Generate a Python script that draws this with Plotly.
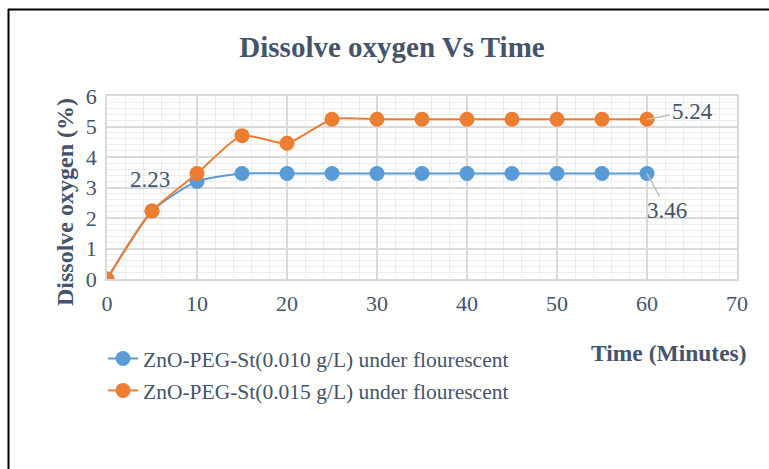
import plotly.graph_objects as go

# Sampling times (minutes) and dissolved oxygen readings (%)
time_min = [0, 5, 10, 15, 20, 25, 30, 35, 40, 45, 50, 55, 60]
do_010 = [0, 2.23, 3.2, 3.46, 3.46, 3.46, 3.46, 3.46, 3.46, 3.46, 3.46, 3.46, 3.46]
do_015 = [0, 2.23, 3.46, 4.7, 4.45, 5.24, 5.24, 5.24, 5.24, 5.24, 5.24, 5.24, 5.24]

name_010 = "ZnO-PEG-St(0.010 g/L) under flourescent"
name_015 = "ZnO-PEG-St(0.015 g/L) under flourescent"

BLUE = "#5B9BD5"
ORANGE = "#ED7D31"
TEXT = "#44546A"
FONT = "Liberation Serif"

# plot-area geometry in pixels (used to place the frame in paper units)
W, H = 769, 469
L, R, T, B = 107, 32, 96, 190
pw, ph = W - L - R, H - T - B


def px_x(p):
    return (p - L) / pw


def px_y(p):
    return (H - B - p) / ph


fig = go.Figure()
fig.add_trace(go.Scatter(
    x=time_min, y=do_010, name=name_010, mode="lines+markers",
    line=dict(color=BLUE, width=2, shape="spline", smoothing=0.6),
    marker=dict(color=BLUE, size=15), legendgroup="a",
))
fig.add_trace(go.Scatter(
    x=time_min, y=do_015, name=name_015, mode="lines+markers",
    line=dict(color=ORANGE, width=2, shape="spline", smoothing=0.6),
    marker=dict(color=ORANGE, size=15), legendgroup="b",
))

grid_major = "#D9D9D9"
grid_minor = "#EDEDED"

fig.update_xaxes(
    range=[0, 70], dtick=10, tick0=0,
    showgrid=True, gridcolor=grid_major, gridwidth=1.5,
    minor=dict(dtick=2, showgrid=True, gridcolor=grid_minor, gridwidth=1),
    showline=True, linecolor=grid_major, linewidth=1.5, mirror=True,
    zeroline=False, ticks="", ticklabelstandoff=4,
    tickfont=dict(family=FONT, size=22, color=TEXT),
)
fig.update_yaxes(
    range=[0, 6], dtick=1, tick0=0,
    showgrid=True, gridcolor=grid_major, gridwidth=1.5,
    minor=dict(dtick=0.2, showgrid=True, gridcolor=grid_minor, gridwidth=1),
    showline=True, linecolor=grid_major, linewidth=1.5, mirror=True,
    zeroline=False, ticks="", ticklabelstandoff=4,
    tickfont=dict(family=FONT, size=22, color=TEXT),
)

annotations = [
    dict(text="<b>Dissolve oxygen (%)</b>", xref="paper", yref="paper",
         x=px_x(65), y=px_y(202), xanchor="center", yanchor="middle",
         textangle=-90, showarrow=False,
         font=dict(family=FONT, size=24, color=TEXT)),
    dict(text="<b>Time (Minutes)</b>", xref="paper", yref="paper",
         x=px_x(669), y=px_y(353), xanchor="center", yanchor="middle",
         showarrow=False, font=dict(family=FONT, size=23.5, color=TEXT)),
    dict(x=time_min[1], y=do_015[1], text=f"{do_015[1]:.2f}",
         showarrow=False, xshift=-2, yshift=31,
         font=dict(family=FONT, size=23, color=TEXT)),
    dict(x=time_min[-1], y=do_015[-1], text=f"{do_015[-1]:.2f}",
         showarrow=True, arrowhead=0, arrowwidth=1.5, arrowcolor="#BFBFBF",
         ax=45, ay=-8, font=dict(family=FONT, size=23, color=TEXT)),
    dict(x=time_min[-1], y=do_010[-1], text=f"{do_010[-1]:.2f}",
         showarrow=True, arrowhead=0, arrowwidth=1.5, arrowcolor="#BFBFBF",
         ax=20, ay=37, font=dict(family=FONT, size=23, color=TEXT)),
]

shapes = [
    dict(type="line", xref="paper", yref="paper", x0=px_x(8), x1=px_x(W + 5),
         y0=px_y(9.5), y1=px_y(9.5), line=dict(color="black", width=2)),
    dict(type="line", xref="paper", yref="paper", x0=px_x(8.5), x1=px_x(8.5),
         y0=px_y(9), y1=px_y(H + 5), line=dict(color="black", width=2)),
]

fig.update_layout(
    width=W, height=H,
    margin=dict(l=L, r=R, t=T, b=B),
    paper_bgcolor="white", plot_bgcolor="white",
    title=dict(text="<b>Dissolve oxygen Vs Time</b>", x=392 / W,
               xanchor="center", y=1 - 47 / H, yanchor="middle",
               font=dict(family=FONT, size=29, color=TEXT)),
    showlegend=True,
    legend=dict(x=px_x(103), y=px_y(338), xanchor="left", yanchor="top",
                traceorder="grouped", tracegroupgap=1,
                font=dict(family=FONT, size=21.5, color=TEXT),
                bgcolor="rgba(0,0,0,0)"),
    annotations=annotations,
    shapes=shapes,
)

fig.write_html("out.html")
